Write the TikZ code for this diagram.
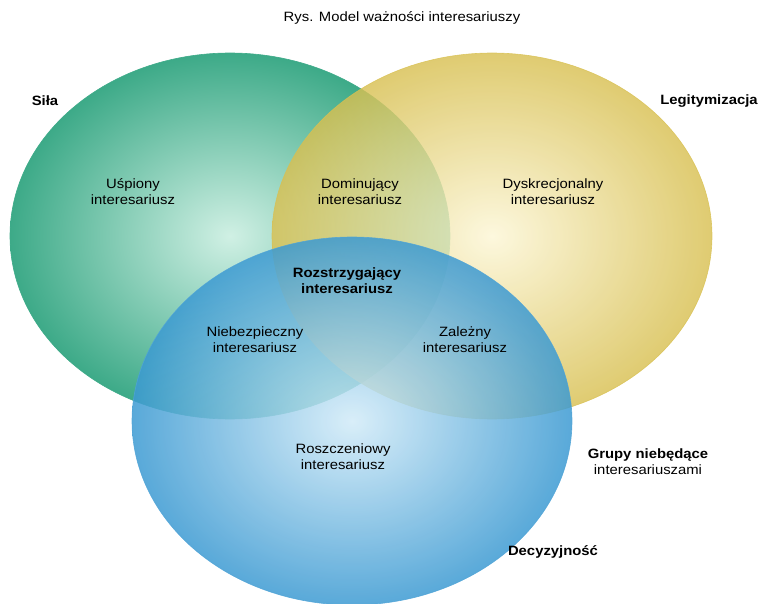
\documentclass[tikz,border=0pt]{standalone}
\usepackage{fontspec}
\setmainfont{Liberation Sans}
\usepackage{tikz}
\usetikzlibrary{shapes.geometric, positioning}

\definecolor{silaOut}{HTML}{3DAA88}
\definecolor{silaIn}{HTML}{D0F0E4}
\definecolor{legOut}{HTML}{D8C052}
\definecolor{legIn}{HTML}{FCF6D6}
\definecolor{decOut}{HTML}{3C9AD2}
\definecolor{decIn}{HTML}{D2EBF8}

\begin{document}
\begin{tikzpicture}[
  x=1pt, y=-1pt,
  font=\fontsize{13.5}{16}\selectfont,
  circ/.style={ellipse,minimum width=440pt,minimum height=366pt,inner sep=0pt,shading=radial,line width=0.6pt},
  area/.style={align=center,xscale=1.1,inner sep=0pt},
  tag/.style={area,font=\fontsize{13.5}{16}\selectfont\bfseries}
]
\useasboundingbox (0,0) rectangle (758,604);

% kola
\node[circ,draw=silaOut,inner color=silaIn,outer color=silaOut] (sila) at (230,236) {};
\node[circ,draw=legOut,inner color=legIn,outer color=legOut,opacity=0.82] (leg) at (492,236) {};
\node[circ,draw=decOut!90,inner color=decIn,outer color=decOut,opacity=0.85,minimum height=368pt] (dec) at (352,421) {};

% opisy
\node[area] (title) at (402,18) {Rys. Model ważności interesariuszy};
\node[tag] (tsila) at (45,101) {Siła};
\node[tag] (tleg) at (709,101) {Legitymizacja};
\node[tag,font=\fontsize{13.5}{16}\selectfont] (grupy) at (648,462) {\textbf{Grupy niebędące}\\interesariuszami};
\node[tag] (tdec) at (553,552) {Decyzyjność};

\node[area] (uspiony) at (133,192) {Uśpiony\\interesariusz};
\node[area] (domin) at (360,192) {Dominujący\\interesariusz};
\node[area] (dyskr) at (553,192) {Dyskrecjonalny\\interesariusz};
\node[tag] (rozstrz) at (347,281) {Rozstrzygający\\interesariusz};
\node[area] (niebezp) at (255,340) {Niebezpieczny\\interesariusz};
\node[area] (zalezny) at (465,340) {Zależny\\interesariusz};
\node[area] (roszcz) at (343,457) {Roszczeniowy\\interesariusz};
\end{tikzpicture}
\end{document}
